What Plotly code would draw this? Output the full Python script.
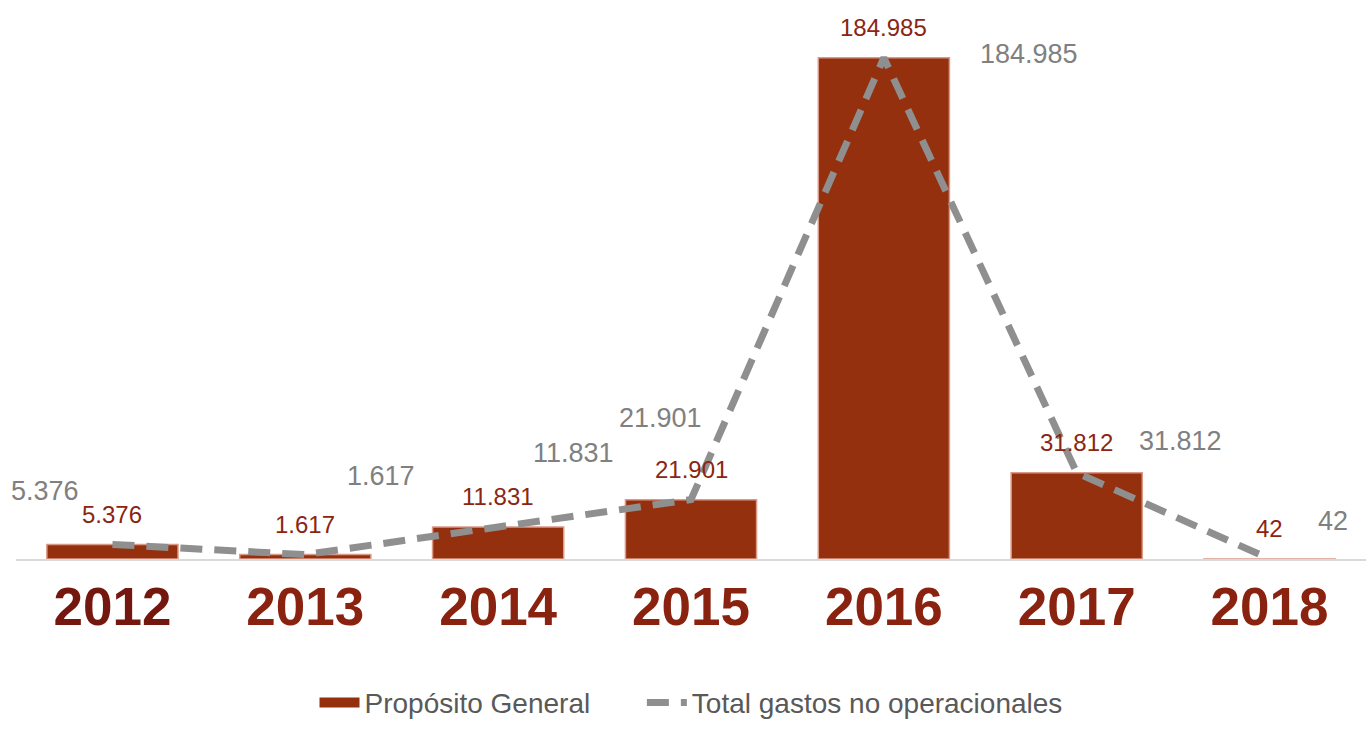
import plotly.graph_objects as go

# Data
years = ["2012", "2013", "2014", "2015", "2016", "2017", "2018"]
proposito_general = [5376, 1617, 11831, 21901, 184985, 31812, 42]
total_no_operacionales = [5376, 1617, 11831, 21901, 184985, 31812, 42]
value_labels = ["5.376", "1.617", "11.831", "21.901", "184.985", "31.812", "42"]
year_colors = ["#74170f", "#8a2210", "#8a2210", "#8a2210", "#8a2210", "#8a2210", "#8a2210"]

# Placement (pixels) of the grey line labels relative to each point
line_label_dx = [-67, 76, 75, -31, 145, 104, 63]
line_label_dy = [53, 79, 74, 82, 4, 32, 38]

BAR = "#95300f"
BAR_TEXT = "#8b2512"
LINE = "#8f8f8f"
GREY_TEXT = "#808080"
FONT = "Liberation Sans, Arial, sans-serif"
NBSP = "\u00a0"

fig = go.Figure()

fig.add_trace(go.Bar(
    x=years,
    y=proposito_general,
    name="Propósito General",
    marker=dict(color=BAR, line=dict(color="#d99a88", width=1.5)),
    width=0.68,
    showlegend=False,
))

# Legend entry for the bars drawn as a wide swatch (padded to space the entries)
fig.add_trace(go.Scatter(
    x=[None], y=[None],
    name="Propósito General" + NBSP * 6,
    mode="lines",
    line=dict(color=BAR, width=13),
    hoverinfo="skip",
))

fig.add_trace(go.Scatter(
    x=years,
    y=total_no_operacionales,
    name="Total gastos no operacionales",
    mode="lines",
    line=dict(color=LINE, width=7, dash="22px,12px"),
))

# Annotations are placed by category position on the x axis
annotations = []
for i, (v, lab) in enumerate(zip(proposito_general, value_labels)):
    annotations.append(dict(
        x=i, y=v, text=lab, showarrow=False, yshift=30,
        font=dict(family=FONT, size=24, color=BAR_TEXT),
    ))
for i, (v, lab, dx, dy) in enumerate(zip(total_no_operacionales, value_labels,
                                         line_label_dx, line_label_dy)):
    annotations.append(dict(
        x=i, y=v, text=lab, showarrow=False, xshift=dx, yshift=dy,
        font=dict(family=FONT, size=27, color=GREY_TEXT),
    ))

fig.update_layout(
    width=1372,
    height=729,
    margin=dict(l=16, r=6, t=17, b=170),
    plot_bgcolor="white",
    paper_bgcolor="white",
    font=dict(family=FONT),
    bargap=0.32,
    showlegend=True,
    legend=dict(
        orientation="h",
        x=0.5, xanchor="center",
        yref="container",
        y=0.036, yanchor="middle",
        font=dict(family=FONT, size=28, color="#595959"),
        itemwidth=40,
    ),
    annotations=annotations,
    xaxis=dict(
        type="category",
        categoryorder="array",
        categoryarray=years,
        range=[-0.5, len(years) - 0.5],
        tickmode="array",
        tickvals=years,
        ticktext=[f"<span style='color:{c}'><b>{y}</b></span>"
                  for y, c in zip(years, year_colors)],
        tickfont=dict(family=FONT, size=53, color="#8a2210"),
        tickangle=0,
        showline=True,
        linecolor="#d9d9d9",
        linewidth=2,
        showgrid=False,
        ticks="",
        ticklabelstandoff=0,
    ),
    yaxis=dict(
        range=[0, 200000],
        visible=False,
        showgrid=False,
        zeroline=False,
    ),
)

fig.write_html("out.html")
